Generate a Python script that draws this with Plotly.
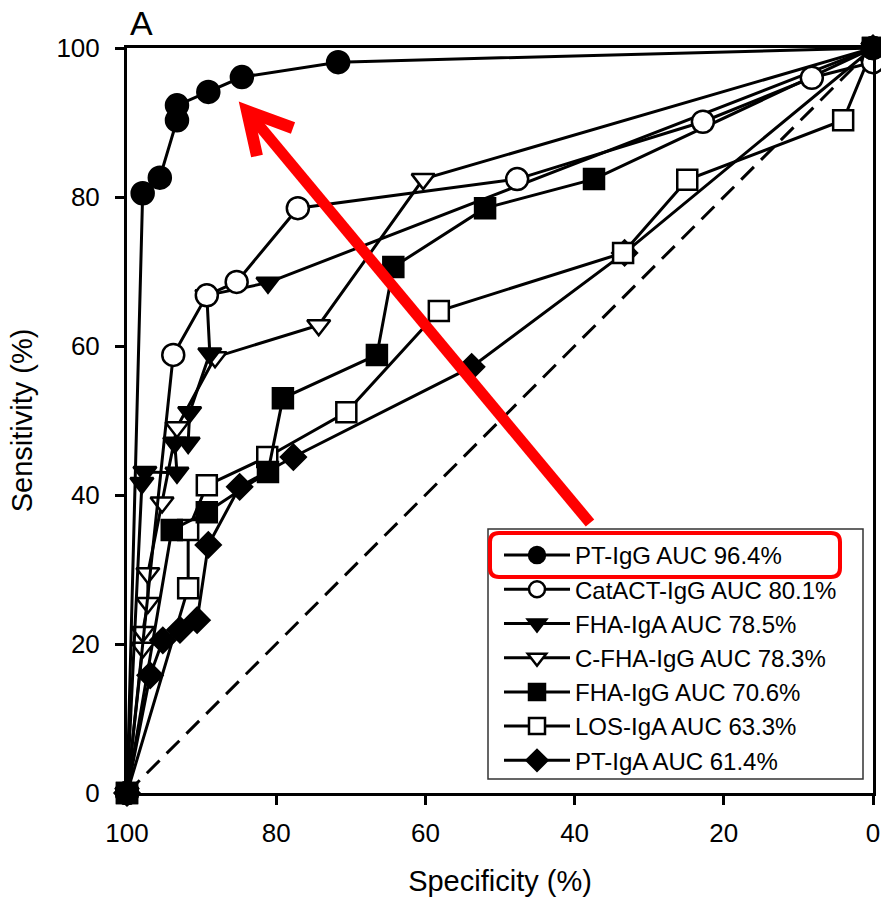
import plotly.graph_objects as go

# ---------------- data (specificity %, sensitivity %) ----------------
pt_igg_spec = [100, 97.9, 95.6, 93.3, 93.3, 89.1, 84.6, 71.7, 0]
pt_igg_sens = [0, 80.5, 82.6, 90.3, 92.3, 94.1, 96.1, 98.1, 100]

catact_spec = [100, 93.8, 89.3, 85.3, 77.1, 47.7, 22.8, 8.2, 0, 0]
catact_sens = [0, 58.8, 66.8, 68.6, 78.5, 82.4, 90.1, 96.0, 98.1, 100]

fha_iga_spec = [100, 98.0, 97.6, 93.3, 93.6, 91.8, 91.6, 88.9, 89.3, 81.1, 0]
fha_iga_sens = [0, 41.6, 43.1, 43.0, 47.0, 47.0, 51.1, 59.0, 66.8, 68.5, 100]

cfha_igg_spec = [100, 97.9, 97.9, 97.2, 97.2, 95.3, 93.3, 88.2, 74.3, 60.3, 0]
cfha_igg_sens = [0, 19.5, 21.6, 25.5, 29.5, 39.0, 49.1, 58.5, 62.8, 82.4, 100]

fha_igg_spec = [100, 94.0, 89.3, 81.1, 79.1, 66.5, 64.3, 52.0, 37.4, 0]
fha_igg_sens = [0, 35.3, 37.7, 43.1, 53.0, 58.8, 70.6, 78.5, 82.4, 100]

los_iga_spec = [100, 91.8, 91.8, 89.3, 81.2, 70.6, 58.2, 33.5, 24.9, 4.0, 0]
los_iga_sens = [0, 27.5, 35.3, 41.3, 45.1, 51.1, 64.7, 72.5, 82.3, 90.3, 100]

pt_iga_spec = [100, 96.9, 95.2, 92.9, 90.6, 89.1, 84.9, 77.7, 53.8, 33.3, 0]
pt_iga_sens = [0, 15.8, 20.5, 21.9, 23.2, 33.3, 41.1, 45.1, 57.2, 72.5, 100]

ref_spec = [100, 0]
ref_sens = [0, 100]

series_names = [
    "PT-IgG AUC 96.4%",
    "CatACT-IgG AUC 80.1%",
    "FHA-IgA AUC 78.5%",
    "C-FHA-IgG AUC 78.3%",
    "FHA-IgG AUC 70.6%",
    "LOS-IgA AUC 63.3%",
    "PT-IgA AUC 61.4%",
]
x_ticks = [100, 80, 60, 40, 20, 0]
y_ticks = [0, 20, 40, 60, 80, 100]

FONT = "Liberation Sans, Arial, sans-serif"

series = [
    (pt_igg_spec, pt_igg_sens, "circle", 22, "black"),
    (catact_spec, catact_sens, "circle", 22, "white"),
    (fha_iga_spec, fha_iga_sens, "triangle-down", 20, "black"),
    (cfha_igg_spec, cfha_igg_sens, "triangle-down", 20, "white"),
    (fha_igg_spec, fha_igg_sens, "square", 20, "black"),
    (los_iga_spec, los_iga_sens, "square", 20, "white"),
    (pt_iga_spec, pt_iga_sens, "diamond", 19, "black"),
]

fig = go.Figure()

fig.add_trace(go.Scatter(
    x=ref_spec, y=ref_sens, mode="lines",
    line=dict(color="black", width=3, dash="18px,10px"),
    showlegend=False, hoverinfo="skip", cliponaxis=False,
))

# draw in reverse order so PT-IgG is on top
for i in reversed(range(len(series))):
    xs, ys, sym, size, fill = series[i]
    fig.add_trace(go.Scatter(
        x=xs, y=ys, mode="lines+markers", name=series_names[i],
        line=dict(color="black", width=3),
        marker=dict(symbol=sym, size=size, color=fill,
                    line=dict(color="black", width=2.5)),
        cliponaxis=False,
    ))

# ---------------- decorations ----------------
def d(px, py):
    return 100 - (px - 127) / 7.46, (793 - py) / 7.45

# legend frame
lx1, ly1 = d(488, 529)
lx2, ly2 = d(863, 779)
fig.add_shape(type="rect", x0=lx1, y0=ly1, x1=lx2, y1=ly2,
              fillcolor="white", line=dict(color="#333333", width=1.5),
              layer="above")

# red arrow
tip = d(247, 111)
tail = d(590, 523)
armL = d(257, 156)
armR = d(293, 128)
fig.add_shape(type="path",
              path=f"M {tail[0]},{tail[1]} L {tip[0]},{tip[1]}",
              line=dict(color="#ff0000", width=11), layer="above")
fig.add_shape(type="path",
              path=f"M {armL[0]},{armL[1]} L {tip[0]},{tip[1]} L {armR[0]},{armR[1]}",
              line=dict(color="#ff0000", width=12), layer="above")

# rounded rectangle around first legend entry
x1, y1 = d(490, 533)
x2, y2 = d(840, 577)
rx, ry = 1.2, 1.2
path = (f"M {x1 - rx},{y1} L {x2 + rx},{y1} Q {x2},{y1} {x2},{y1 - ry} "
        f"L {x2},{y2 + ry} Q {x2},{y2} {x2 + rx},{y2} "
        f"L {x1 - rx},{y2} Q {x1},{y2} {x1},{y2 + ry} "
        f"L {x1},{y1 - ry} Q {x1},{y1} {x1 - rx},{y1} Z")
fig.add_shape(type="path", path=path, line=dict(color="#ff0000", width=4),
              layer="above")

fig.add_annotation(text="A", x=0.0, y=1.0, xref="paper", yref="paper",
                   xanchor="left", yanchor="bottom", showarrow=False,
                   xshift=1, yshift=4,
                   font=dict(family=FONT, size=34, color="black"))

fig.update_layout(
    width=881, height=901,
    margin=dict(l=127, r=8, t=48, b=108),
    paper_bgcolor="white", plot_bgcolor="white",
    font=dict(family=FONT, color="black"),
    showlegend=True,
    legend=dict(
        x=(499 - 127) / 746, y=(793 - 533) / 745,
        xanchor="left", yanchor="top",
        bgcolor="rgba(0,0,0,0)", borderwidth=0,
        font=dict(family=FONT, size=24, color="black"),
        traceorder="reversed", itemwidth=66,
    ),
    xaxis=dict(
        range=[100, 0], autorange=False, automargin=False,
        tickvals=x_ticks, ticktext=[str(v) for v in x_ticks],
        showgrid=False, zeroline=False,
        showline=True, linecolor="black", linewidth=3, mirror=True,
        ticks="outside", ticklen=9, tickwidth=3, tickcolor="black",
        tickfont=dict(family=FONT, size=26, color="black"),
        ticklabelstandoff=6,
        title=dict(text="Specificity (%)", standoff=24,
                   font=dict(family=FONT, size=29, color="black")),
    ),
    yaxis=dict(
        range=[0, 100], autorange=False, automargin=False,
        tickvals=y_ticks, ticktext=[str(v) for v in y_ticks],
        showgrid=False, zeroline=False,
        showline=True, linecolor="black", linewidth=3, mirror=True,
        ticks="outside", ticklen=9, tickwidth=3, tickcolor="black",
        tickfont=dict(family=FONT, size=26, color="black"),
        ticklabelstandoff=10,
        title=dict(text="Sensitivity (%)", standoff=16,
                   font=dict(family=FONT, size=29, color="black")),
    ),
)

fig.write_html("out.html")
